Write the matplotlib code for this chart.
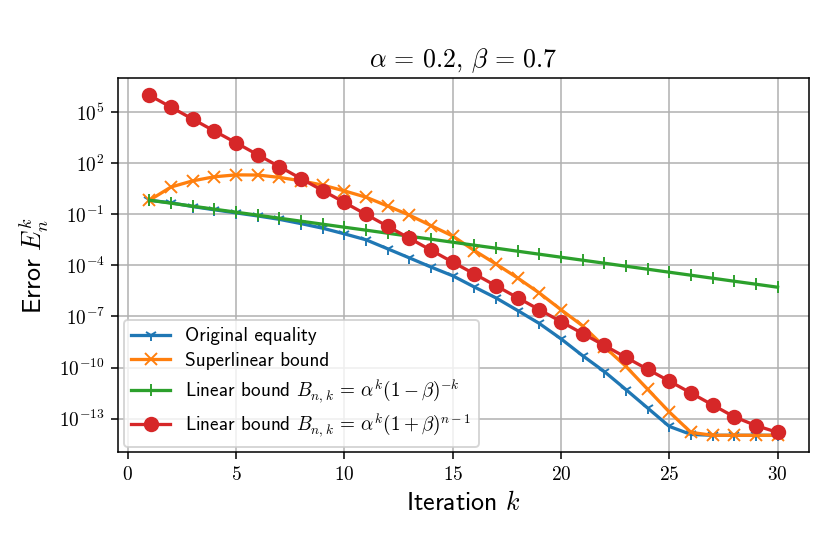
import numpy as np
import matplotlib
matplotlib.use("Agg")
import matplotlib.pyplot as plt
from matplotlib.ticker import FuncFormatter, FixedLocator, NullLocator

plt.rcParams['mathtext.fontset'] = 'cm'
plt.rcParams['font.family'] = ['cmss10', 'DejaVu Sans']
plt.rcParams['axes.unicode_minus'] = False

iterations = list(range(1, 31))

original_equality = [0.66, 0.468, 0.282, 0.182, 0.120, 0.0794, 0.0501, 0.0282, 0.0151, 7.08e-3,
                     3.16e-3, 9.33e-4, 2.75e-4, 7.94e-5, 2.45e-5, 5.37e-6, 1.23e-6, 2.24e-7, 3.89e-8, 4.90e-9,
                     5.01e-10, 5.89e-11, 5.13e-12, 4.27e-13, 3.55e-14, 1.20e-14, 1.07e-14, 1.07e-14, 1.07e-14, 1.07e-14]

superlinear_bound = [0.66, 3.98, 9.12, 15.8, 20.4, 20.0, 14.5, 9.12, 5.13, 2.34,
                     1.0, 0.302, 0.0891, 0.0214, 5.25e-3, 7.41e-4, 1.20e-4, 1.82e-5, 2.40e-6, 2.51e-7,
                     2.82e-8, 1.70e-9, 1.17e-10, 5.37e-12, 2.51e-13, 1.58e-14, 1.07e-14, 1.07e-14, 1.07e-14, 1.07e-14]

linear_bound_minus = [0.667, 0.444, 0.296, 0.198, 0.132, 0.0878, 0.0585, 0.0390, 0.0260, 0.0173,
                      0.0116, 7.71e-3, 5.14e-3, 3.43e-3, 2.28e-3, 1.52e-3, 1.02e-3, 6.77e-4, 4.51e-4, 3.01e-4,
                      2.01e-4, 1.34e-4, 8.92e-5, 5.95e-5, 3.96e-5, 2.64e-5, 1.76e-5, 1.17e-5, 7.83e-6, 5.22e-6]

linear_bound_plus = [9.55e5, 1.91e5, 3.80e4, 7.59e3, 1.55e3, 309, 61.7, 12.3, 2.45, 0.490,
                     0.0977, 0.0195, 3.89e-3, 7.76e-4, 1.55e-4, 3.16e-5, 6.31e-6, 1.26e-6, 2.51e-7, 5.01e-8,
                     1.0e-8, 2.0e-9, 3.98e-10, 7.94e-11, 1.62e-11, 3.24e-12, 6.46e-13, 1.29e-13, 3.98e-14, 1.58e-14]

labels = ["Original equality",
          "Superlinear bound",
          r"Linear bound $B_{n,k}\,=\,\alpha^k(1-\beta)^{-k}$",
          r"Linear bound $B_{n,k}\,=\,\alpha^k(1+\beta)^{n-1}$"]
title = r"$\alpha\,=\,0.2,\,\beta\,=\,0.7$"
y_tick_exponents = [5, 2, -1, -4, -7, -10, -13]
x_ticks = [0, 5, 10, 15, 20, 25, 30]

dpi = 138.4
fig = plt.figure(figsize=(830 / dpi, 554 / dpi), dpi=dpi)
ax = fig.add_axes([0.1422, 0.1836, 0.8325, 0.6751])

lw = 1.7
ax.plot(iterations, original_equality, marker='1', lw=lw, markersize=6.5, color='#1f77b4', label=labels[0])
ax.plot(iterations, superlinear_bound, marker='x', lw=lw, markersize=6.5, color='#ff7f0e', label=labels[1])
ax.plot(iterations, linear_bound_minus, marker='|', lw=lw, markersize=6.5, color='#2ca02c', label=labels[2])
ax.plot(iterations, linear_bound_plus, marker='o', lw=lw, markersize=7, color='#d62728', label=labels[3])

ax.set_yscale('log')
ax.yaxis.set_major_locator(FixedLocator([10.0 ** e for e in y_tick_exponents]))
ax.yaxis.set_minor_locator(NullLocator())
ax.yaxis.set_major_formatter(FuncFormatter(lambda v, p: r"$10^{%d}$" % int(round(np.log10(v)))))
ax.xaxis.set_major_locator(FixedLocator(x_ticks))
ax.xaxis.set_major_formatter(FuncFormatter(lambda v, p: r"$%d$" % int(round(v))))
ax.tick_params(labelsize=10)

ax.grid(True)
ax.set_xlabel(r"Iteration $k$", fontsize=13.5)
ax.set_ylabel(r"Error $E_n^k$", fontsize=13.5)
ax.set_title(title, fontsize=13.5)
ax.legend(loc='lower left', fontsize=10, labelspacing=0.35, borderaxespad=0.3)

fig.savefig("out.png", dpi=dpi)
